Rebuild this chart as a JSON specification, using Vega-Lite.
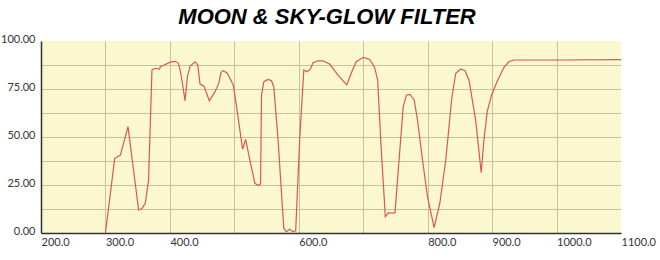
{
  "$schema": "https://vega.github.io/schema/vega-lite/v6.json",
  "width": 580,
  "height": 192,
  "autosize": {"type": "none"},
  "padding": {"left": 41, "top": 41, "right": 39, "bottom": 27},
  "background": "white",
  "title": {
    "text": "MOON & SKY-GLOW FILTER",
    "font": "Liberation Sans",
    "fontSize": 22,
    "fontWeight": "bold",
    "fontStyle": "italic",
    "color": "#000000",
    "anchor": "middle",
    "dx": -4,
    "offset": 4
  },
  "config": {"view": {"fill": "#FBF7CE", "stroke": null}},
  "data": {
    "values": [
      {"wavelength": 300, "transmission": 0},
      {"wavelength": 314.4, "transmission": 38.9},
      {"wavelength": 323.2, "transmission": 40.6},
      {"wavelength": 335, "transmission": 55.4},
      {"wavelength": 351.5, "transmission": 12.0},
      {"wavelength": 356.7, "transmission": 12.8},
      {"wavelength": 361.8, "transmission": 15.5},
      {"wavelength": 366.9, "transmission": 27.6},
      {"wavelength": 372.2, "transmission": 84.9},
      {"wavelength": 377.3, "transmission": 85.8},
      {"wavelength": 384, "transmission": 85.4},
      {"wavelength": 385, "transmission": 86.6},
      {"wavelength": 391.2, "transmission": 87.5},
      {"wavelength": 400.5, "transmission": 89.0},
      {"wavelength": 408.2, "transmission": 89.4},
      {"wavelength": 413.3, "transmission": 88.4},
      {"wavelength": 417, "transmission": 83.2},
      {"wavelength": 423.6, "transmission": 68.8},
      {"wavelength": 427.2, "transmission": 81.4},
      {"wavelength": 431.4, "transmission": 87.0},
      {"wavelength": 439.1, "transmission": 89.2},
      {"wavelength": 443.3, "transmission": 87.5},
      {"wavelength": 446.8, "transmission": 77.6},
      {"wavelength": 453, "transmission": 76.5},
      {"wavelength": 461.2, "transmission": 68.8},
      {"wavelength": 470, "transmission": 73.6},
      {"wavelength": 476.2, "transmission": 78.3},
      {"wavelength": 479.3, "transmission": 83.7},
      {"wavelength": 482.9, "transmission": 84.5},
      {"wavelength": 489, "transmission": 83.2},
      {"wavelength": 498.3, "transmission": 77.1},
      {"wavelength": 503.5, "transmission": 65.8},
      {"wavelength": 512.8, "transmission": 43.6},
      {"wavelength": 517.5, "transmission": 48.8},
      {"wavelength": 524.1, "transmission": 38.0},
      {"wavelength": 531.9, "transmission": 25.9},
      {"wavelength": 537, "transmission": 24.7},
      {"wavelength": 540.7, "transmission": 25.5},
      {"wavelength": 542.2, "transmission": 71.9},
      {"wavelength": 545.8, "transmission": 78.8},
      {"wavelength": 552.4, "transmission": 80.0},
      {"wavelength": 557.7, "transmission": 79.3},
      {"wavelength": 561.2, "transmission": 76.2},
      {"wavelength": 567.9, "transmission": 48.4},
      {"wavelength": 576.7, "transmission": 2.4},
      {"wavelength": 580.8, "transmission": 0.7},
      {"wavelength": 585.9, "transmission": 1.9},
      {"wavelength": 591, "transmission": 0.7},
      {"wavelength": 595.2, "transmission": 1.2},
      {"wavelength": 601.4, "transmission": 48.4},
      {"wavelength": 607.8, "transmission": 84.9},
      {"wavelength": 612.7, "transmission": 84.0},
      {"wavelength": 617.9, "transmission": 85.3},
      {"wavelength": 622, "transmission": 88.7},
      {"wavelength": 629.7, "transmission": 89.7},
      {"wavelength": 637.4, "transmission": 89.7},
      {"wavelength": 647.8, "transmission": 88.0},
      {"wavelength": 660.6, "transmission": 82.3},
      {"wavelength": 674.5, "transmission": 77.1},
      {"wavelength": 681.3, "transmission": 83.2},
      {"wavelength": 689, "transmission": 89.2},
      {"wavelength": 700.3, "transmission": 91.5},
      {"wavelength": 709.6, "transmission": 90.5},
      {"wavelength": 717.3, "transmission": 86.6},
      {"wavelength": 722.4, "transmission": 79.7},
      {"wavelength": 727.7, "transmission": 45.0},
      {"wavelength": 734.3, "transmission": 8.5},
      {"wavelength": 739.4, "transmission": 10.6},
      {"wavelength": 744.7, "transmission": 10.3},
      {"wavelength": 749.3, "transmission": 10.6},
      {"wavelength": 756, "transmission": 39.7},
      {"wavelength": 762.1, "transmission": 65.8},
      {"wavelength": 767.2, "transmission": 71.9},
      {"wavelength": 772.5, "transmission": 72.2},
      {"wavelength": 779.1, "transmission": 69.3},
      {"wavelength": 784.2, "transmission": 58.9},
      {"wavelength": 792, "transmission": 38.0},
      {"wavelength": 799.7, "transmission": 18.9},
      {"wavelength": 810, "transmission": 2.8},
      {"wavelength": 818.9, "transmission": 15.5},
      {"wavelength": 828.1, "transmission": 38.0},
      {"wavelength": 837.4, "transmission": 70.2},
      {"wavelength": 843.6, "transmission": 83.2},
      {"wavelength": 851.3, "transmission": 85.4},
      {"wavelength": 857.9, "transmission": 84.5},
      {"wavelength": 864.1, "transmission": 79.7},
      {"wavelength": 874.4, "transmission": 58.9},
      {"wavelength": 883.1, "transmission": 31.4},
      {"wavelength": 887.3, "transmission": 48.4},
      {"wavelength": 892.4, "transmission": 63.2},
      {"wavelength": 899.2, "transmission": 71.9},
      {"wavelength": 907.9, "transmission": 79.0},
      {"wavelength": 918.2, "transmission": 86.2},
      {"wavelength": 926, "transmission": 89.2},
      {"wavelength": 933.7, "transmission": 90.1},
      {"wavelength": 1000, "transmission": 90.1},
      {"wavelength": 1100, "transmission": 90.3}
    ]
  },
  "mark": {"type": "line", "color": "#D6585A", "strokeWidth": 1.2, "clip": true},
  "encoding": {
    "x": {
      "field": "wavelength",
      "type": "quantitative",
      "scale": {"domain": [200, 1100], "nice": false, "zero": false},
      "axis": {
        "title": null,
        "values": [200, 300, 400, 500, 600, 700, 800, 900, 1000, 1100],
        "labelExpr": "datum.value == 500 || datum.value == 700 ? '' : format(datum.value, '.1f')",
        "labelAlign": "left",
        "labelPadding": 3,
        "labelFont": "Lato",
        "labelFontSize": 11,
        "labelColor": "#333333",
        "labelOverlap": false,
        "labelBound": false,
        "labelFlush": false,
        "ticks": false,
        "domainColor": "#333333",
        "domainWidth": 1.5,
        "gridColor": "#C9C19C",
        "gridWidth": 1,
        "gridOpacity": {"condition": {"test": "datum.value <= 200 || datum.value >= 1100", "value": 0}, "value": 1}
      }
    },
    "y": {
      "field": "transmission",
      "type": "quantitative",
      "scale": {"domain": [0, 100], "nice": false},
      "axis": {
        "title": null,
        "values": [0, 12.5, 25, 37.5, 50, 62.5, 75, 87.5, 100],
        "labelExpr": "datum.value % 25 == 0 ? format(datum.value, '.2f') : ''",
        "labelPadding": 6,
        "labelOffset": -2,
        "labelFont": "Lato",
        "labelFontSize": 11,
        "labelColor": "#333333",
        "labelOverlap": false,
        "labelBound": false,
        "labelFlush": false,
        "ticks": false,
        "domainColor": "#333333",
        "domainWidth": 1.5,
        "gridColor": "#C9C19C",
        "gridWidth": 1,
        "gridOpacity": {"condition": {"test": "datum.value <= 0 || datum.value >= 100", "value": 0}, "value": 1}
      }
    }
  }
}
